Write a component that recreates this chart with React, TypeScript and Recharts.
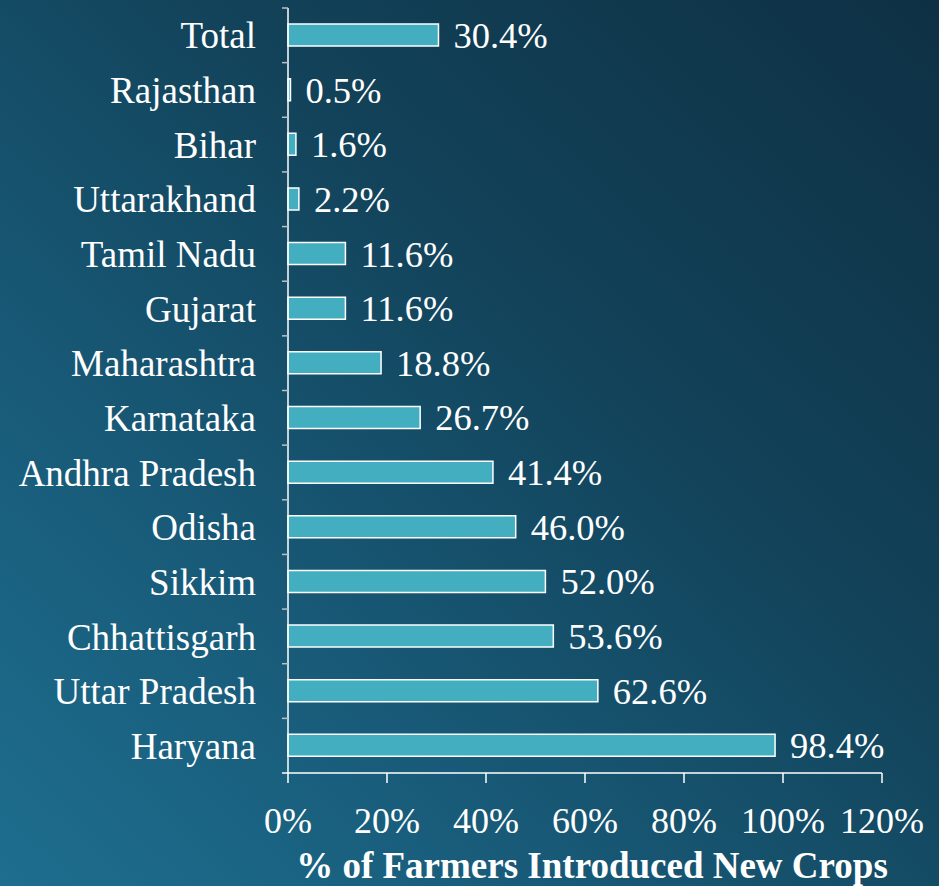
import { Bar, BarChart, LabelList, XAxis, YAxis } from "recharts";

const states = [
  "Total",
  "Rajasthan",
  "Bihar",
  "Uttarakhand",
  "Tamil Nadu",
  "Gujarat",
  "Maharashtra",
  "Karnataka",
  "Andhra Pradesh",
  "Odisha",
  "Sikkim",
  "Chhattisgarh",
  "Uttar Pradesh",
  "Haryana",
];
const shares = [30.4, 0.5, 1.6, 2.2, 11.6, 11.6, 18.8, 26.7, 41.4, 46.0, 52.0, 53.6, 62.6, 98.4];
const xTicks = [0, 20, 40, 60, 80, 100, 120];

const white = "#ffffff";
const font = "'Liberation Serif', serif";

function StateTick(props: any) {
  const { x, y, payload, index } = props;
  const half = payload?.offset ?? 0;
  const axisX = x + 32;
  return (
    <g>
      <line x1={axisX - 6} x2={axisX} y1={y - half} y2={y - half} stroke="#b4c2c9" strokeWidth={1.5} />
      {index === states.length - 1 && (
        <line x1={axisX - 6} x2={axisX} y1={y + half} y2={y + half} stroke={white} strokeWidth={1.5} />
      )}
      <text x={x} y={y} dy="0.355em" textAnchor="end" fill={white} style={{ fontFamily: font, fontSize: 37 }}>
        {payload.value}
      </text>
    </g>
  );
}

function PctTick(props: any) {
  const { x, y, payload } = props;
  return (
    <text x={x} y={y} dy="0.71em" textAnchor="middle" fill={white} style={{ fontFamily: font, fontSize: 36 }}>
      {`${payload.value}%`}
    </text>
  );
}

function ValueLabel(props: any) {
  const { x, y, width, height, value } = props;
  return (
    <text
      x={x + width + 15}
      y={y + height / 2}
      dy="0.355em"
      fill={white}
      style={{ fontFamily: font, fontSize: 36.5 }}
    >
      {`${Number(value).toFixed(1)}%`}
    </text>
  );
}

function AxisTitle(props: any) {
  const { viewBox } = props;
  return (
    <text
      x={viewBox.x + viewBox.width / 2 + 7}
      y={viewBox.y + viewBox.height - 8}
      textAnchor="middle"
      fill={white}
      style={{ fontFamily: font, fontSize: 37, fontWeight: "bold" }}
    >
      % of Farmers Introduced New Crops
    </text>
  );
}

export default function App() {
  const data = states.map((name, i) => ({ name, value: shares[i] }));

  return (
    <div
      style={{
        position: "absolute",
        left: 0,
        top: 0,
        width: 939,
        height: 886,
        background: "linear-gradient(to top right, #1e6e8f 0%, #185a78 30%, #124259 62%, #0e3044 100%)",
      }}
    >
      <BarChart
        width={939}
        height={886}
        data={data}
        layout="vertical"
        margin={{ top: 8, right: 57, bottom: 0, left: 0 }}
        barSize={22}
      >
        <XAxis
          type="number"
          domain={[0, 120]}
          ticks={xTicks}
          height={113}
          tickSize={10}
          tickMargin={24}
          axisLine={{ stroke: white, strokeWidth: 1.5 }}
          tickLine={{ stroke: white, strokeWidth: 1.5 }}
          tick={<PctTick />}
          label={{ content: <AxisTitle /> }}
        />
        <YAxis
          type="category"
          dataKey="name"
          width={288}
          tickLine={false}
          tickSize={0}
          tickMargin={32}
          axisLine={{ stroke: white, strokeWidth: 1.5 }}
          tick={<StateTick />}
          interval={0}
        />
        <Bar dataKey="value" fill="#42aebf" stroke={white} strokeWidth={1.5} isAnimationActive={false}>
          <LabelList dataKey="value" content={<ValueLabel />} />
        </Bar>
      </BarChart>
    </div>
  );
}
